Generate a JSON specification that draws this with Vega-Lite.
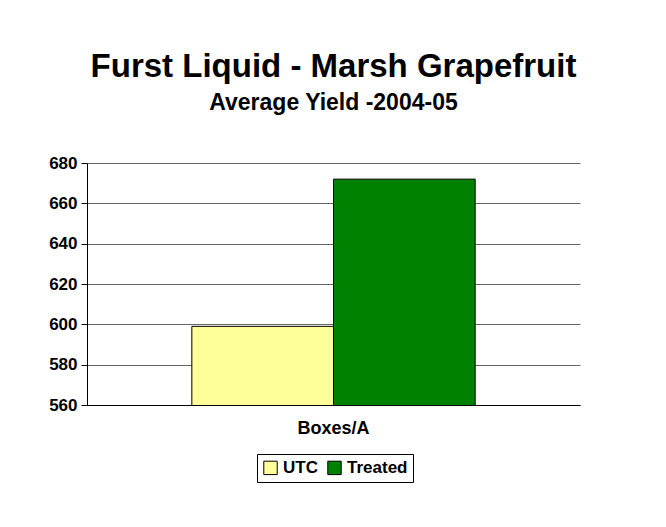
{
  "$schema": "https://vega.github.io/schema/vega-lite/v6.json",
  "autosize": "none",
  "width": 493,
  "height": 242,
  "padding": {"left": 87, "top": 163, "right": 86, "bottom": 122},
  "background": "white",
  "title": {
    "text": "Furst Liquid - Marsh Grapefruit",
    "subtitle": "Average Yield -2004-05",
    "anchor": "middle",
    "font": "Liberation Sans",
    "fontSize": 33,
    "fontWeight": "bold",
    "color": "black",
    "subtitleFont": "Liberation Sans",
    "subtitleFontSize": 23,
    "subtitleFontWeight": "bold",
    "subtitleColor": "black",
    "subtitlePadding": 8,
    "offset": 39
  },
  "data": {
    "values": [
      {"category": "Boxes/A", "series": "UTC", "yield": 599},
      {"category": "Boxes/A", "series": "Treated", "yield": 672}
    ]
  },
  "mark": {"type": "bar", "stroke": "black", "strokeWidth": 1, "clip": true},
  "encoding": {
    "x": {
      "field": "category",
      "type": "nominal",
      "scale": {"paddingInner": 0, "paddingOuter": 0.37},
      "axis": {
        "title": null,
        "labelAngle": 0,
        "labelFont": "Liberation Sans",
        "labelFontSize": 18,
        "labelFontWeight": "bold",
        "labelColor": "black",
        "labelPadding": 14,
        "ticks": false,
        "domainColor": "black",
        "domainWidth": 1
      }
    },
    "xOffset": {
      "field": "series",
      "type": "nominal",
      "sort": ["UTC", "Treated"],
      "scale": {"paddingInner": 0, "paddingOuter": 0}
    },
    "y": {
      "field": "yield",
      "type": "quantitative",
      "scale": {"domain": [560, 680], "zero": false, "nice": false},
      "axis": {
        "title": null,
        "values": [560, 580, 600, 620, 640, 660, 680],
        "labelFont": "Liberation Sans",
        "labelFontSize": 17,
        "labelFontWeight": "bold",
        "labelColor": "black",
        "labelPadding": 4,
        "tickColor": "black",
        "tickSize": 6,
        "domainColor": "black",
        "gridColor": "black",
        "gridOpacity": 0.6
      }
    },
    "color": {
      "field": "series",
      "type": "nominal",
      "sort": ["UTC", "Treated"],
      "scale": {"domain": ["UTC", "Treated"], "range": ["#FFFF99", "#008000"]},
      "legend": {
        "title": null,
        "orient": "none",
        "direction": "horizontal",
        "legendX": 170,
        "legendY": 291,
        "symbolType": "square",
        "symbolSize": 180,
        "symbolStrokeColor": "black",
        "symbolStrokeWidth": 1,
        "symbolOpacity": 1,
        "labelFont": "Liberation Sans",
        "labelFontSize": 17,
        "labelFontWeight": "bold",
        "labelColor": "black",
        "labelOffset": 4,
        "columnPadding": 7,
        "padding": 5,
        "strokeColor": "black",
        "fillColor": "white"
      }
    }
  },
  "config": {
    "view": {"stroke": null},
    "axis": {"gridWidth": 1}
  }
}
